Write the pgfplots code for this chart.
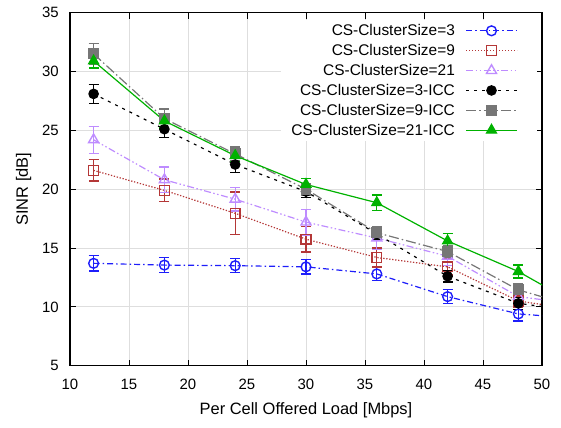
\documentclass[border=0pt]{standalone}
\usepackage{pgfplots}
\pgfplotsset{compat=1.18}
\usepackage{fontspec}
\setmainfont{Liberation Sans}
\definecolor{cblue}{RGB}{30,30,250}
\definecolor{cred}{RGB}{180,55,55}
\definecolor{cpurple}{RGB}{190,140,255}
\definecolor{cgray}{RGB}{118,118,118}
\definecolor{cgreen}{RGB}{0,178,0}
\definecolor{cgrid}{RGB}{222,222,222}
\begin{document}
\begin{tikzpicture}
\begin{axis}[
  name=ax,
  scale only axis,
  width=472bp, height=353bp,
  xmin=10, xmax=50, ymin=5, ymax=35,
  xtick={10,15,...,50}, ytick={5,10,...,35},
  tick align=inside, major tick length=6bp,
  grid=major, grid style={cgrid, line width=1pt},
  axis line style={line width=1.1pt},
  every tick/.style={black, line width=1pt},
  /pgf/number format/assume math mode=true,
  tick label style={font=\fontsize{15}{17}\selectfont, inner sep=0pt},
  xticklabel style={anchor=center, yshift=-19bp},
  yticklabel style={anchor=east, xshift=-11bp},
  label style={font=\fontsize{16.5}{18}\selectfont},
  xlabel={Per Cell Offered Load [Mbps]},
  ylabel={SINR [dB]},
  xlabel style={at={(axis description cs:0.5,-0.125)}, anchor=center},
  ylabel style={at={(axis description cs:-0.0985,0.5)}, anchor=center, rotate=0},
  legend style={draw=none, fill=white, at={(0.989,0.980)}, anchor=north east,
    font=\fontsize{15.5}{17}\selectfont, row sep=4.2bp, column sep=9bp,
    inner xsep=8.5bp, inner ysep=3bp, nodes={inner sep=1.5bp}},
  legend cell align=right,
  legend plot pos=right,
  legend image code/.code={\draw[mark indices={2}] plot coordinates {(0bp,0bp) (25.5bp,0bp) (51bp,0bp)}; \path (61.5bp,0bp);},
  every axis plot/.append style={line width=1.2pt, mark indices={1,2,3,4,5,6,7}},
  error bars/y dir=both, error bars/y explicit,
  error bars/error mark options={rotate=90, mark size=5bp, line width=1.4pt},
  error bars/error bar style={solid, line width=1.4pt},
]
\addplot[cblue, dash pattern=on 6bp off 3bp on 1.5bp off 3bp, mark=o, mark size=4.9bp, mark options={solid, line width=1.4pt}]
 table[x=x,y=y,y error=e]{
x y e
12 13.7 0.65
18 13.55 0.62
24 13.5 0.6
30 13.4 0.6
36 12.8 0.55
42 10.87 0.6
48 9.4 0.6
54 8.95 0
};
\addlegendentry{CS-ClusterSize=3}
\addplot[cred, dash pattern=on 1.3bp off 1.7bp, mark=square, mark size=4.9bp, mark options={solid, line width=1.4pt}]
 table[x=x,y=y,y error=e]{
x y e
12 21.6 0.9
18 19.9 0.95
24 17.95 1.8
30 15.75 1.1
36 14.2 0.8
42 13.4 0.7
48 10.5 0.5
54 9.6 0
};
\addlegendentry{CS-ClusterSize=9}
\addplot[cpurple, dash pattern=on 7bp off 2.5bp on 1.5bp off 2.5bp on 1.5bp off 2.5bp, mark=triangle, mark size=5.8bp, mark options={solid, line width=1.4pt}]
 table[x=x,y=y,y error=e]{
x y e
12 24.2 1.15
18 20.8 1.1
24 19.15 1.0
30 17.2 1.1
36 15.85 1.0
42 14.3 0.8
48 10.87 0.6
54 10.1 0
};
\addlegendentry{CS-ClusterSize=21}
\addplot[black, dash pattern=on 3bp off 5bp, mark=*, mark size=4.7bp, mark options={solid}]
 table[x=x,y=y,y error=e]{
x y e
12 28.1 0.8
18 25.1 0.7
24 22.1 0.7
30 19.8 0.5
36 16.2 0.5
42 12.6 0.5
48 10.3 0.5
54 9.5 0
};
\addlegendentry{CS-ClusterSize=3-ICC}
\addplot[cgray, dash pattern=on 10bp off 3bp on 1.5bp off 3bp, mark=square*, mark size=4.9bp, mark options={solid}]
 table[x=x,y=y,y error=e]{
x y e
12 31.5 0.9
18 26.0 0.8
24 23.0 0.6
30 20.0 0.5
36 16.3 0.5
42 14.7 0.5
48 11.44 0.5
54 9.7 0
};
\addlegendentry{CS-ClusterSize=9-ICC}
\addplot[cgreen, solid, mark=triangle*, mark size=5.8bp]
 table[x=x,y=y,y error=e]{
x y e
12 30.9 0.6
18 25.8 0.6
24 22.85 0.5
30 20.4 0.5
36 18.85 0.65
42 15.6 0.65
48 13.0 0.55
54 9.6 0
};
\addlegendentry{CS-ClusterSize=21-ICC}
\end{axis}
\pgfresetboundingbox
\path ([shift={(-70bp,-62bp)}]ax.south west) rectangle ([shift={(19bp,12.7bp)}]ax.north east);
\end{tikzpicture}
\end{document}
